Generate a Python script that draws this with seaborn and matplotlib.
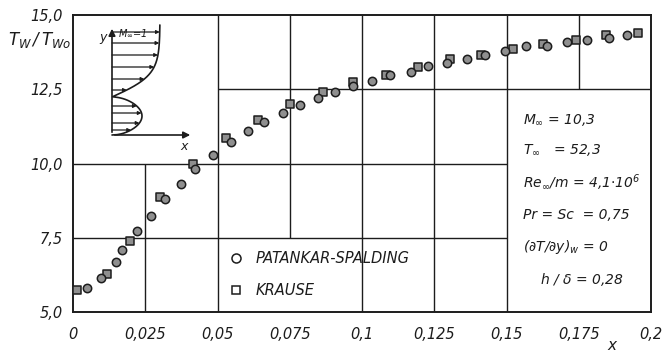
import numpy as np
import pandas as pd
import matplotlib
matplotlib.use("Agg")
import matplotlib.pyplot as plt
import seaborn as sns
from matplotlib.lines import Line2D

# ---------------- data ----------------
ps_x = [0.0050, 0.0096, 0.0149, 0.0168, 0.0223, 0.0269, 0.0319, 0.0374, 0.0423, 0.0486,
        0.0546, 0.0607, 0.0661, 0.0726, 0.0785, 0.0847, 0.0908, 0.0970, 0.1036, 0.1097,
        0.1168, 0.1229, 0.1295, 0.1364, 0.1426, 0.1495, 0.1567, 0.1639, 0.1708, 0.1777,
        0.1856, 0.1916]
ps_y = [5.82, 6.13, 6.67, 7.09, 7.74, 8.23, 8.79, 9.31, 9.81, 10.29,
        10.73, 11.10, 11.41, 11.69, 11.97, 12.19, 12.42, 12.61, 12.78, 12.98,
        13.09, 13.29, 13.39, 13.51, 13.65, 13.79, 13.97, 13.97, 14.08, 14.16,
        14.24, 14.33]
kr_x = [0.0015, 0.0119, 0.0197, 0.0301, 0.0416, 0.0529, 0.0641, 0.0751, 0.0866, 0.0970,
        0.1083, 0.1195, 0.1304, 0.1411, 0.1521, 0.1625, 0.1740, 0.1846, 0.1956]
kr_y = [5.74, 6.27, 7.39, 8.88, 9.98, 10.85, 11.46, 12.00, 12.40, 12.76,
        12.98, 13.26, 13.51, 13.65, 13.86, 14.01, 14.16, 14.33, 14.40]
series_names = ["PATANKAR-SPALDING", "KRAUSE"]

x_ticks = [0, 0.025, 0.05, 0.075, 0.1, 0.125, 0.15, 0.175, 0.2]
x_tick_labels = ["0", "0,025", "0,05", "0,075", "0,1", "0,125", "0,15", "0,175", "0,2"]
y_ticks = [5.0, 7.5, 10.0, 12.5, 15.0]
y_tick_labels = ["5,0", "7,5", "10,0", "12,5", "15,0"]

param_lines = [r"$M_\infty$ = 10,3",
               r"$T_\infty$   = 52,3",
               r"$Re_\infty$/m = 4,1$\cdot$10$^6$",
               r"Pr = Sc  = 0,75",
               r"$(\partial T/\partial y)_w$ = 0",
               r"h / $\delta$ = 0,28"]

df_ps = pd.DataFrame({"x": ps_x, "y": ps_y})
df_kr = pd.DataFrame({"x": kr_x, "y": kr_y})

# ---------------- style ----------------
sns.set_theme(style="white")
FONT = ["Liberation Sans Narrow", "DejaVu Sans"]
plt.rcParams["font.family"] = FONT
plt.rcParams["font.style"] = "italic"
plt.rcParams["mathtext.fontset"] = "custom"
plt.rcParams["mathtext.it"] = "Liberation Sans Narrow:italic"
plt.rcParams["mathtext.rm"] = "Liberation Sans Narrow:italic"
plt.rcParams["mathtext.sf"] = "Liberation Sans Narrow:italic"

INK = "#1c1c1c"
W, H = 664, 355
fig = plt.figure(figsize=(W / 100, H / 100), dpi=100)
ax = fig.add_axes([73 / W, 1 - 312 / H, 578 / W, 297 / H])

sns.scatterplot(data=df_kr, x="x", y="y", marker="s", color="#8f8f8f", edgecolor=INK,
                linewidth=1.1, s=26, legend=False, ax=ax, zorder=3)
sns.scatterplot(data=df_ps, x="x", y="y", marker="o", color="#8f8f8f", edgecolor=INK,
                linewidth=1.1, s=36, legend=False, ax=ax, zorder=3)

ax.set_xlim(0, 0.2)
ax.set_ylim(5, 15)
ax.set_xticks(x_ticks)
ax.set_xticklabels(x_tick_labels)
ax.set_yticks(y_ticks)
ax.set_yticklabels(y_tick_labels)
ax.set_xlabel("")
ax.set_ylabel("")
for sp in ax.spines.values():
    sp.set_color(INK)
    sp.set_linewidth(1.4)
ax.tick_params(axis="both", direction="inout", length=7, width=1.2, color=INK,
               labelsize=10.5, labelcolor=INK)
ax.tick_params(axis="x", pad=7)
ax.tick_params(axis="y", pad=4)

# partial grid
glw = 1.0
ax.hlines(7.5, 0, 0.15, color=INK, lw=glw, zorder=1)
ax.hlines(10.0, 0, 0.15, color=INK, lw=glw, zorder=1)
ax.hlines(12.5, 0.05, 0.2, color=INK, lw=glw, zorder=1)
ax.vlines(0.025, 5, 10, color=INK, lw=glw, zorder=1)
ax.vlines(0.05, 5, 15, color=INK, lw=glw, zorder=1)
ax.vlines(0.075, 7.5, 15, color=INK, lw=glw, zorder=1)
for xv in (0.1, 0.125, 0.15):
    ax.vlines(xv, 5, 15, color=INK, lw=glw, zorder=1)
ax.vlines(0.175, 12.5, 15, color=INK, lw=glw, zorder=1)

# legend
handles = [Line2D([], [], marker="o", ls="", mfc="white", mec=INK, mew=1.1, ms=6.5),
           Line2D([], [], marker="s", ls="", mfc="white", mec=INK, mew=1.1, ms=5.5)]
leg = ax.legend(handles, series_names, loc="center left", bbox_to_anchor=(0.27, 0.127),
                frameon=False, handlelength=1.0, handletextpad=0.8, borderpad=0,
                borderaxespad=0, labelspacing=1.15, fontsize=10.5)
for t in leg.get_texts():
    t.set_color(INK)

# parameter block
def px2data(px, py):
    return (px - 73) / 578 * 0.2, 5 + (312 - py) / 297 * 10

param_pos = [(523, 120), (523, 150), (523, 183), (523, 215), (523, 247), (540, 280)]
for txt, (px, py) in zip(param_lines, param_pos):
    xd, yd = px2data(px, py)
    ax.text(xd, yd, txt, fontsize=10, color=INK, ha="left", va="center")

# axis labels
fig.text(8 / W, 1 - 40 / H, r"$T_W\,/\,T_{Wo}$", fontsize=12, color=INK, ha="left", va="center")
fig.text(612 / W, 1 - 346 / H, "x", fontsize=11, color=INK, ha="center", va="center")

# inset sketch of the velocity profile (pixel coordinates)
axi = fig.add_axes([95 / W, 1 - 155 / H, 110 / W, 140 / H])
axi.set_xlim(95, 205)
axi.set_ylim(155, 15)
axi.axis("off")
x0, y0 = 112, 135
axi.annotate("", xy=(193, y0), xytext=(x0, y0),
             arrowprops=dict(arrowstyle="-|>", lw=1.2, color=INK, mutation_scale=10))
axi.annotate("", xy=(x0, 26), xytext=(x0, y0),
             arrowprops=dict(arrowstyle="-|>", lw=1.2, color=INK, mutation_scale=10))

def prof(v):
    v = np.asarray(v, float)
    low = 30 * np.sqrt(np.clip(np.sin(np.pi * v / 38), 0, None))
    high = 48 * np.tanh(np.clip(v - 38, 0, None) / 22)
    return np.where(v < 38, low, high)

vv = np.linspace(0, 110, 300)
axi.plot(x0 + prof(vv), y0 - vv, color=INK, lw=1.2)
for v in [5, 12, 22, 29, 45, 56, 68, 80, 92, 103]:
    u = float(prof(v))
    axi.annotate("", xy=(x0 + u, y0 - v), xytext=(x0, y0 - v),
                 arrowprops=dict(arrowstyle="-|>", lw=0.9, color=INK, mutation_scale=5,
                                 shrinkA=0, shrinkB=0))
axi.text(103, 37, "y", fontsize=9, color=INK, ha="center", va="center")
axi.text(118, 33, r"$M_\infty$=1", fontsize=7, color=INK, ha="left", va="center")
axi.text(184, 146, "x", fontsize=9, color=INK, ha="center", va="center")

fig.savefig("out.png", dpi=100, facecolor="white")
